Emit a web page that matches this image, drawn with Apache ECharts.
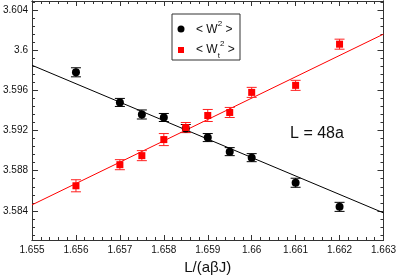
<!DOCTYPE html>
<html>
<head>
<meta charset="utf-8">
<script src="https://cdn.jsdelivr.net/npm/echarts@6/dist/echarts.min.js"></script>
<style>html,body{margin:0;padding:0;background:#fff;}#c{width:399px;height:280px;}</style>
</head>
<body>
<div id="c"></div>
<script>
// ---- data ----
const xVals = [1.656, 1.657, 1.6575, 1.658, 1.6585, 1.659, 1.6595, 1.66, 1.661, 1.662];
const w2 = [3.5978, 3.5948, 3.5936, 3.5933, 3.5922, 3.5913, 3.5899, 3.5893, 3.5868, 3.5844];
const w2Err = [0.00045, 0.0004, 0.00045, 0.0004, 0.0004, 0.0004, 0.0004, 0.0004, 0.00045, 0.00045];
const wt2 = [3.5865, 3.5886, 3.5895, 3.5911, 3.5923, 3.5935, 3.5938, 3.5958, 3.5965, 3.6006];
const wt2Err = [0.0006, 0.0005, 0.0005, 0.0006, 0.0005, 0.0006, 0.0005, 0.0005, 0.0005, 0.0005];
const fitX = [1.655, 1.663];
const fitW2 = [3.5985, 3.5838];
const fitWt2 = [3.5846, 3.6016];
const xTicks = [1.655, 1.656, 1.657, 1.658, 1.659, 1.66, 1.661, 1.662, 1.663];
const yTicks = [3.584, 3.588, 3.592, 3.596, 3.6, 3.604];
const xRange = [1.655, 1.663];
const yRange = [3.5811, 3.6049];

function minorList(majors, n, lo, hi) {
  const step = (majors[1] - majors[0]) / n;
  const out = [];
  for (let k = -n; k < majors.length * n + n; k++) {
    if (k % n === 0) continue;
    const v = majors[0] + k * step;
    if (v > lo && v < hi) out.push(+v.toFixed(6));
  }
  return out;
}
const xMinor = minorList(xTicks, 5, xRange[0], xRange[1]);
const yMinor = minorList(yTicks, 5, yRange[0], yRange[1]);
const fmt = v => String(+(+v).toFixed(4));
const AX = '#333';
const FF = 'Liberation Sans';

function xAx(pos, vals, len, labels, name) {
  return {
    type: 'value', min: xRange[0], max: xRange[1], position: pos,
    axisLine: {show: true, onZero: false, lineStyle: {color: AX, width: 1}},
    axisTick: {show: true, inside: true, length: len, customValues: vals, lineStyle: {color: AX}},
    axisLabel: labels ? {show: true, customValues: vals, formatter: fmt, fontSize: 10, color: '#111', margin: 5, fontFamily: FF} : {show: false},
    splitLine: {show: false},
    name: name || '', nameLocation: 'middle', nameGap: 20,
    nameTextStyle: {fontSize: 15, color: '#111', fontFamily: FF}
  };
}
function yAx(pos, vals, len, labels) {
  return {
    type: 'value', min: yRange[0], max: yRange[1], position: pos,
    axisLine: {show: true, onZero: false, lineStyle: {color: AX, width: 1}},
    axisTick: {show: true, inside: true, length: len, customValues: vals, lineStyle: {color: AX}},
    axisLabel: labels ? {show: true, customValues: vals, formatter: fmt, fontSize: 10, color: '#111', margin: 4, fontFamily: FF} : {show: false},
    splitLine: {show: false}
  };
}

function errSeries(vals, errs, color) {
  return {
    type: 'custom', xAxisIndex: 0, yAxisIndex: 0, z: 3,
    data: xVals.map((x, i) => [x, vals[i] - errs[i], vals[i] + errs[i]]),
    renderItem: function (params, api) {
      const lo = api.coord([api.value(0), api.value(1)]);
      const hi = api.coord([api.value(0), api.value(2)]);
      const h = 5;
      const st = {stroke: color, lineWidth: 1};
      return {type: 'group', children: [
        {type: 'line', shape: {x1: lo[0], y1: lo[1], x2: hi[0], y2: hi[1]}, style: st},
        {type: 'line', shape: {x1: lo[0] - h, y1: lo[1], x2: lo[0] + h, y2: lo[1]}, style: st},
        {type: 'line', shape: {x1: hi[0] - h, y1: hi[1], x2: hi[0] + h, y2: hi[1]}, style: st}
      ]};
    }
  };
}

const richLeg = {
  b: {fontSize: 12, fontFamily: FF, lineHeight: 20, verticalAlign: 'middle', fill: '#111'},
  sup: {fontSize: 8, fontFamily: FF, lineHeight: 9, verticalAlign: 'top', fill: '#111'},
  sub: {fontSize: 8, fontFamily: FF, lineHeight: 9, verticalAlign: 'bottom', fill: '#111'}
};

const chart = echarts.init(document.getElementById('c'), null, {renderer: 'canvas'});
chart.setOption({
  animation: false,
  backgroundColor: '#fff',
  grid: {left: 29, right: 13, top: 1, bottom: 30, containLabel: false},
  xAxis: [
    xAx('bottom', xTicks, 5, true, 'L/(aβJ)'),
    xAx('bottom', xMinor, 3, false),
    xAx('top', xTicks, 5, false),
    xAx('top', xMinor, 3, false)
  ],
  yAxis: [
    yAx('left', yTicks, 6, true),
    yAx('left', yMinor, 3, false),
    yAx('right', yTicks, 6, false),
    yAx('right', yMinor, 3, false)
  ],
  series: [
    {type: 'line', data: fitX.map((x, i) => [x, fitW2[i]]), symbol: 'none', lineStyle: {color: '#000', width: 1}, z: 2},
    {type: 'line', data: fitX.map((x, i) => [x, fitWt2[i]]), symbol: 'none', lineStyle: {color: '#ff0000', width: 1}, z: 2},
    errSeries(w2, w2Err, '#000'),
    errSeries(wt2, wt2Err, '#ff2020'),
    {type: 'scatter', data: xVals.map((x, i) => [x, w2[i]]), symbol: 'circle', symbolSize: 8, itemStyle: {color: '#000', opacity: 1}, z: 4},
    {type: 'scatter', data: xVals.map((x, i) => [x, wt2[i]]), symbol: 'rect', symbolSize: 7, itemStyle: {color: '#ff0000', opacity: 1}, z: 5}
  ],
  graphic: [
    {type: 'rect', shape: {x: 172, y: 14, width: 68, height: 46}, style: {fill: '#fff', stroke: '#333', lineWidth: 1}, z: 10},
    {type: 'circle', shape: {cx: 181, cy: 29, r: 3.5}, style: {fill: '#000'}, z: 11},
    {type: 'rect', shape: {x: 178, y: 47, width: 6, height: 6}, style: {fill: '#ff0000'}, z: 11},
    {type: 'text', x: 196, y: 30, z: 11, style: {
      text: '{b|< W}{sup|2}{b| >}', verticalAlign: 'middle', rich: richLeg
    }},
    {type: 'text', x: 196, y: 50, z: 11, style: {
      text: '{b|< W}{sub|t}{sup|2}{b| >}', verticalAlign: 'middle', rich: richLeg
    }},
    {type: 'text', x: 317, y: 134, z: 11, style: {text: 'L = 48a', fontSize: 16, fontFamily: FF, fill: '#111', align: 'center', verticalAlign: 'middle'}}
  ]
});
</script>
</body>
</html>
